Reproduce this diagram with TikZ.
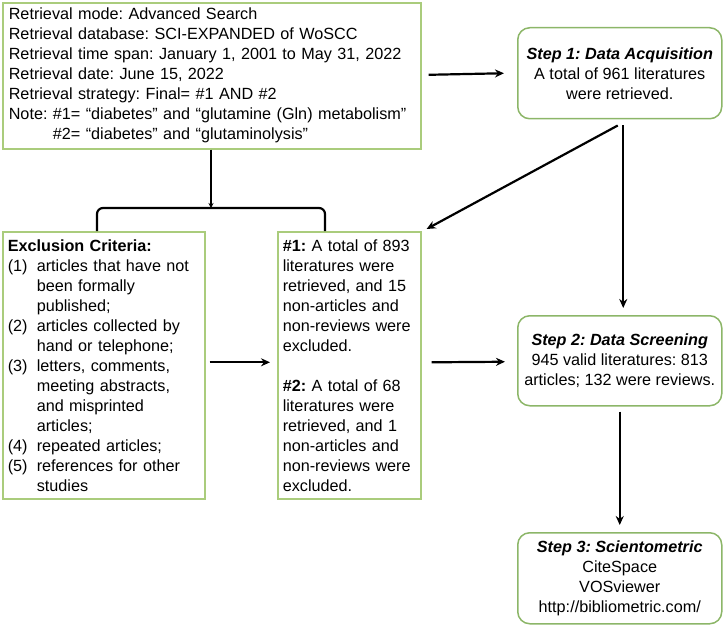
\documentclass[tikz,border=0pt]{standalone}
\usepackage{fontspec}
\setmainfont{Liberation Sans}
\usetikzlibrary{arrows.meta,calc}
\definecolor{boxgreen}{RGB}{170,204,124}
\definecolor{stepgreen}{RGB}{140,182,104}
\tikzset{
  plainbox/.style={draw=boxgreen,line width=1.6pt,rectangle,inner xsep=6pt,inner ysep=0pt,
    font=\fontsize{16.2pt}{20pt}\selectfont,align=left,anchor=north west},
  stepbox/.style={draw=stepgreen,line width=1.5pt,rectangle,rounded corners=12pt,inner sep=0pt,
    font=\fontsize{16.2pt}{20pt}\selectfont,align=center,anchor=north west},
  conn/.style={line width=2.2pt,-{Stealth[length=9pt,width=8pt]}},
}
\newcommand{\ind}{\hspace*{29pt}}
\newcommand{\itm}[1]{\makebox[29pt][l]{#1}}
\frenchspacing
\begin{document}
\begin{tikzpicture}[x=1pt,y=-1pt]
\useasboundingbox (0,0) rectangle (724,626);
\node[plainbox,minimum width=418pt,minimum height=146pt,text width=406pt] (top) at (2,2)
{Retrieval mode: Advanced Search\\
Retrieval database: SCI-EXPANDED of WoSCC\\
Retrieval time span: January 1, 2001 to May 31, 2022\\
Retrieval date: June 15, 2022\\
Retrieval strategy: Final= \#1 AND \#2\\
Note: \#1= “diabetes” and “glutamine (Gln) metabolism”\\
\hphantom{Note: }\#2= “diabetes” and “glutaminolysis”};

\node[plainbox,minimum width=202pt,minimum height=267pt,text width=192pt,inner xsep=5pt] (excl) at (2,231)
{\textbf{Exclusion Criteria:}\\
\itm{(1)}articles that have not\\
\ind been formally\\
\ind published;\\
\itm{(2)}articles collected by\\
\ind hand or telephone;\\
\itm{(3)}letters, comments,\\
\ind meeting abstracts,\\
\ind and misprinted\\
\ind articles;\\
\itm{(4)}repeated articles;\\
\itm{(5)}references for other\\
\ind studies};

\node[plainbox,minimum width=143pt,minimum height=267pt,text width=133pt,inner xsep=5pt] (res) at (277,231)
{\textbf{\#1:} A total of 893\\
literatures were\\
retrieved, and 15\\
non-articles and\\
non-reviews were\\
excluded.\\[20pt]
\textbf{\#2:} A total of 68\\
literatures were\\
retrieved, and 1\\
non-articles and\\
non-reviews were\\
excluded.};

\node[stepbox,minimum width=204pt,minimum height=91pt] (s1) at (517,27)
{\textbf{\textit{Step 1: Data Acquisition}}\\
A total of 961 literatures\\
were retrieved.};

\node[stepbox,minimum width=204pt,minimum height=90pt] (s2) at (517,315)
{\textbf{\textit{Step 2: Data Screening}}\\
945 valid literatures: 813\\
articles; 132 were reviews.};

\node[stepbox,minimum width=204pt,minimum height=91pt] (s3) at (517,532)
{\textbf{\textit{Step 3: Scientometric}}\\
CiteSpace\\
VOSviewer\\
http://bibliometric.com/};

\coordinate (j) at (211,208);
\coordinate (bl) at (97,231);
\coordinate (br) at (325,231);

\draw[line width=2.2pt,-{Stealth[length=5pt,width=5pt]}] (top.south -| j) -- (j);
\draw[line width=2.2pt,rounded corners=6pt] (bl) -- (bl |- j) -- (br |- j) -- (br);

\draw[conn] ($(top.east)+(7,-1)$) -- ($(s1.west)+(-13,0)$);
\draw[conn] ($(s1.south)+(-2,6)$) -- ($(res.north east)+(5,-2)$);
\draw[conn] ($(s1.south)+(3.5,6)$) -- ($(s2.north)+(3.5,-7)$);
\draw[conn] ($(excl.east)+(4,-3)$) -- ($(res.west)+(-7,-3)$);
\draw[conn] ($(res.east)+(10,-3)$) -- ($(s2.west)+(-12,1)$);
\draw[conn] ($(s2.south)+(0,5)$) -- ($(s3.north)+(0,-7)$);
\end{tikzpicture}
\end{document}
